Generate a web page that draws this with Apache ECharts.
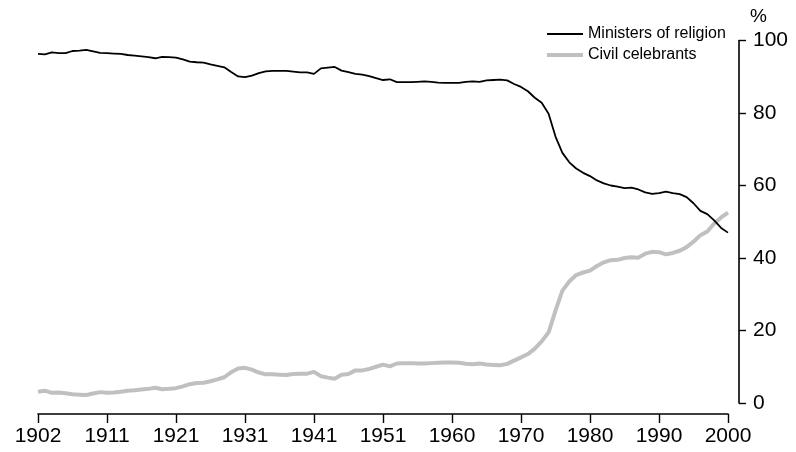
<!DOCTYPE html>
<html>
<head>
<meta charset="utf-8">
<script src="https://cdn.jsdelivr.net/npm/echarts@6/dist/echarts.min.js"></script>
<style>
  html, body { margin: 0; padding: 0; background: #fff; }
  #chart { width: 796px; height: 452px; }
</style>
</head>
<body>
<div id="chart"></div>
<script>
var chartDom = document.getElementById('chart');
var myChart = echarts.init(chartDom);
var option;

// one point per position 0..100, labelled every 10th position
var tickLabels = ['1902', '1911', '1921', '1931', '1941', '1951', '1960', '1970', '1980', '1990', '2000'];

var ministers = [
  96.3, 96.2, 96.7, 96.5, 96.5, 97.1, 97.2, 97.4, 97.0, 96.6,
  96.5, 96.4, 96.3, 96.0, 95.8, 95.6, 95.4, 95.1, 95.5, 95.4,
  95.3, 94.8, 94.2, 94.0, 93.9, 93.4, 93.0, 92.6, 91.3, 90.1,
  89.9, 90.3, 91.0, 91.5, 91.6, 91.6, 91.6, 91.4, 91.2, 91.2,
  90.8, 92.3, 92.5, 92.7, 91.7, 91.3, 90.8, 90.6, 90.2, 89.6,
  89.1, 89.3, 88.5, 88.5, 88.5, 88.6, 88.7, 88.6, 88.4, 88.3,
  88.3, 88.3, 88.6, 88.7, 88.6, 89.0, 89.1, 89.2, 89.0, 88.0,
  87.2, 86.0, 84.2, 82.8, 79.8, 73.5, 69.0, 66.4, 64.7, 63.5,
  62.6, 61.4, 60.6, 60.0, 59.7, 59.3, 59.4, 58.9, 58.1, 57.7,
  57.9, 58.3, 57.9, 57.6, 56.8, 55.1, 53.0, 52.1, 50.4, 48.3,
  47.0
];

var celebrants = [
  3.1, 3.4, 2.8, 2.9, 2.7, 2.4, 2.3, 2.2, 2.6, 3.0,
  2.8, 2.9, 3.1, 3.4, 3.5, 3.7, 3.9, 4.2, 3.8, 3.9,
  4.1, 4.6, 5.2, 5.5, 5.6, 6.0, 6.5, 7.1, 8.5, 9.5,
  9.7, 9.2, 8.4, 7.9, 7.9, 7.8, 7.7, 8.0, 8.1, 8.1,
  8.6, 7.4, 7.0, 6.7, 7.8, 8.0, 9.0, 9.0, 9.4, 10.0,
  10.6, 10.1, 10.9, 11.0, 11.0, 10.9, 10.9, 11.0, 11.1, 11.2,
  11.2, 11.1, 10.8, 10.7, 10.9, 10.6, 10.5, 10.4, 10.8, 11.7,
  12.6, 13.5, 15.0, 17.0, 19.5, 25.5, 31.0, 33.5, 35.3, 36.0,
  36.5, 37.8, 38.8, 39.4, 39.5, 40.0, 40.2, 40.1, 41.2, 41.7,
  41.6, 41.0, 41.4, 42.0, 43.0, 44.5, 46.3, 47.3, 49.5, 51.2,
  52.5
];

function toPairs(arr) {
  var out = [];
  for (var i = 0; i < arr.length; i++) {
    out.push([i, arr[i]]);
  }
  return out;
}

var font = '"Liberation Sans", Arial, sans-serif';

option = {
  animation: false,
  textStyle: { fontFamily: font },
  grid: {
    left: 38,
    right: 68,
    top: 40.5,
    bottom: 49
  },
  legend: {
    left: 542,
    top: 21,
    orient: 'vertical',
    itemWidth: 36,
    itemHeight: 14,
    itemGap: 5,
    textStyle: { fontSize: 16, color: '#000', fontFamily: font },
    data: [
      { name: 'Ministers of religion', icon: 'path://M0,0H36V2H0Z' },
      { name: 'Civil celebrants', icon: 'path://M0,0H36V4H0Z' }
    ]
  },
  xAxis: {
    type: 'value',
    min: 0,
    max: 100,
    interval: 10,
    offset: 11,
    splitLine: { show: false },
    axisLine: { onZero: false, lineStyle: { color: '#000', width: 1.6 } },
    axisTick: { length: 9, lineStyle: { color: '#000', width: 1.4 } },
    axisLabel: {
      fontSize: 21,
      color: '#000',
      margin: 12,
      fontFamily: font,
      formatter: function (v) {
        return tickLabels[Math.round(v / 10)];
      }
    }
  },
  yAxis: {
    type: 'value',
    position: 'right',
    min: 0,
    max: 100,
    interval: 20,
    offset: 11,
    name: '%',
    nameLocation: 'end',
    nameGap: 14,
    nameTextStyle: { fontSize: 19, color: '#000', align: 'left', padding: [0, 0, 0, 11], fontFamily: font },
    splitLine: { show: false },
    axisLine: { show: true, onZero: false, lineStyle: { color: '#000', width: 1.6 } },
    axisTick: { show: true, length: 7, lineStyle: { color: '#000', width: 1.4 } },
    axisLabel: { fontSize: 21, color: '#000', margin: 14, fontFamily: font }
  },
  series: [
    {
      name: 'Ministers of religion',
      type: 'line',
      symbol: 'none',
      data: toPairs(ministers),
      lineStyle: { color: '#000', width: 1.8 },
      itemStyle: { color: '#000' },
      z: 3
    },
    {
      name: 'Civil celebrants',
      type: 'line',
      symbol: 'none',
      data: toPairs(celebrants),
      lineStyle: { color: '#c0c0c0', width: 4 },
      itemStyle: { color: '#c0c0c0' },
      z: 2
    }
  ]
};

option && myChart.setOption(option);
</script>
</body>
</html>
